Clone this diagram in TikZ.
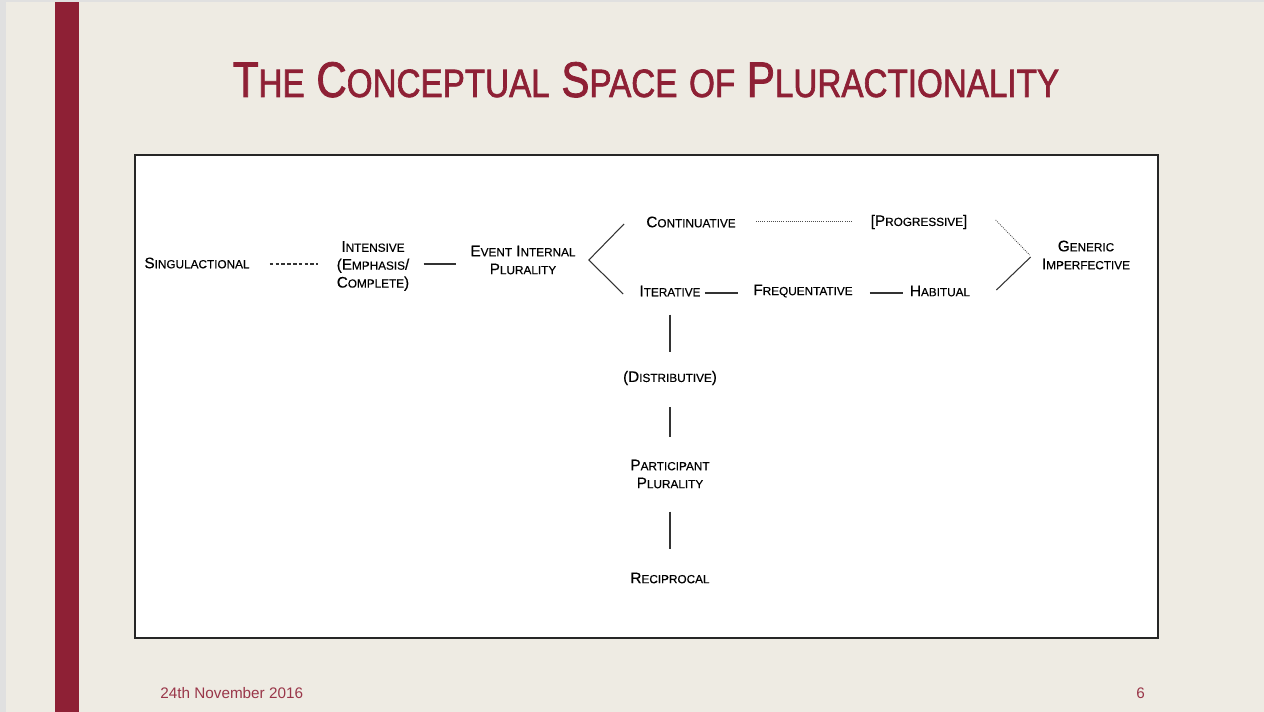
\documentclass[tikz,border=0pt]{standalone}
\usepackage{fontspec}
\setmainfont{Liberation Sans}
\newfontfamily\titlefont[FakeStretch=0.84,FakeBold=1.6]{Liberation Sans}
\newfontfamily\termfont[FakeBold=0.35]{Liberation Sans}
\usetikzlibrary{calc}
\definecolor{slidebg}{HTML}{EEEBE3}
\definecolor{maroon}{HTML}{8E2035}
\newcommand{\sm}[1]{{\fontsize{6.7}{10.2}\selectfont #1}}
\newcommand{\tsm}[1]{{\fontsize{22.5}{26}\selectfont #1}}

\begin{document}
\begin{tikzpicture}[
  x=0.02cm, y=-0.02cm,
  term/.style={align=center, inner sep=0pt, font=\termfont\fontsize{8.7}{10.2}\selectfont},
  link/.style={draw=black!80, line width=0.6pt},
  dashlink/.style={link, dash pattern=on 2pt off 1.3pt},
  dotlink/.style={draw=black!70, line width=0.5pt, dash pattern=on 0.5pt off 0.7pt},
  footer/.style={anchor=base west, inner sep=0pt, text=maroon!90, font=\fontsize{8.7}{10}\selectfont}
]
% slide
\useasboundingbox (0,0) rectangle (1264,712);
\fill[slidebg] (0,0) rectangle (1264,712);
\fill[black!12] (0,0) rectangle (1264,2);
\fill[black!12] (0,0) rectangle (6,712);
\fill[maroon] (55,2) rectangle (79,712);
\node[anchor=base, inner sep=0pt, text=maroon, font=\titlefont\fontsize{28.5}{32}\selectfont] (title) at (646,97)
  {T\tsm{HE} C\tsm{ONCEPTUAL} S\tsm{PACE} \tsm{OF} P\tsm{LURACTIONALITY}};
\draw[fill=white, draw=black!85, line width=0.8pt] (135,155) rectangle (1158,638);

% terms
\node[term] (sing) at (197,263) {S\sm{INGULACTIONAL}};
\node[term] (int) at (373,266) {I\sm{NTENSIVE}\\(E\sm{MPHASIS}/\\C\sm{OMPLETE})};
\node[term] (eip) at (523,260) {E\sm{VENT} I\sm{NTERNAL}\\P\sm{LURALITY}};
\node[term] (cont) at (691,222) {C\sm{ONTINUATIVE}};
\node[term] (prog) at (919,222) {[P\sm{ROGRESSIVE}]};
\node[term] (gen) at (1086,255) {G\sm{ENERIC}\\I\sm{MPERFECTIVE}};
\node[term] (iter) at (670,291) {I\sm{TERATIVE}};
\node[term] (freq) at (803,291) {F\sm{REQUENTATIVE}};
\node[term] (hab) at (940,291) {H\sm{ABITUAL}};
\node[term] (dist) at (670,378) {(D\sm{ISTRIBUTIVE})};
\node[term] (part) at (670,474) {P\sm{ARTICIPANT}\\P\sm{LURALITY}};
\node[term] (recip) at (670,578) {R\sm{ECIPROCAL}};

% connectors
\coordinate (fork) at ($(eip.east)+(13,0)$);
\draw[dashlink] ($(sing.east)+(20,1)$) -- ($(sing.east -| int.west)+(-18,1)$);
\draw[link] ($(int.east)+(14,-2)$) -- ($(int.east -| eip.west)+(-14,-2)$);
\draw[link] ($(cont.west)+(-22,2)$) -- (fork) -- ($(iter.west)+(-16,3)$);
\draw[dotlink] ($(cont.east)+(20,-1)$) -- ($(cont.east -| prog.west)+(-18,-1)$);
\draw[dotlink] ($(prog.east)+(28,-2)$) -- ($(gen.west)+(-12,0)$);
\draw[link] ($(hab.east)+(26,-1)$) -- ($(gen.west)+(-11,2)$);
\draw[link] ($(iter.east)+(4,2)$) -- ($(iter.east -| freq.west)+(-15,2)$);
\draw[link] ($(freq.east)+(17,2)$) -- ($(freq.east -| hab.west)+(-7,2)$);
\draw[link] ($(iter.south)+(0,18)$) -- ($(iter.south |- dist.north)+(0,-19)$);
\draw[link] ($(dist.south)+(0,22)$) -- ($(dist.south |- part.north)+(0,-22)$);
\draw[link] ($(part.south)+(0,23)$) -- ($(part.south |- recip.north)+(0,-23)$);

% footer
\node[footer] (date) at (160,698) {24th November 2016};
\node[footer] (page) at (1136,698) {6};
\end{tikzpicture}
\end{document}
